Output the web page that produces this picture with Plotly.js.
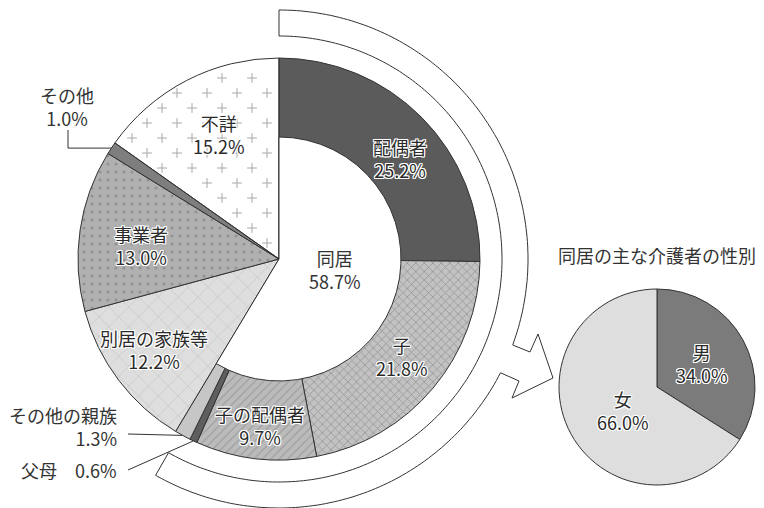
<!DOCTYPE html>
<html>
<head>
<meta charset="utf-8">
<script src="https://cdn.plot.ly/plotly-3.0.1.min.js"></script>
<style>
  html, body { margin: 0; padding: 0; background: #fff; }
  #chart { width: 764px; height: 508px; }
</style>
</head>
<body>
<div id="chart"></div>
<script>
// 主な介護者の続柄
const careLabels = ['配偶者','子','子の配偶者','父母','その他の親族','別居の家族等','事業者','その他','不詳'];
const careValues = [25.2, 21.8, 9.7, 0.6, 1.3, 12.2, 13.0, 1.0, 15.2];
const livingCount = 5;          // first five slices live together
const livingLabel = '同居';
const livingValue = 58.7;
// 同居の主な介護者の性別
const sexTitle = '同居の主な介護者の性別';
const sexLabels = ['男','女'];
const sexValues = [34.0, 66.0];

const sliceColors = ['#5b5b5b','#c2c2c2','#bbbbbb','#5e5e5e','#c6c6c6','#dedede','#b0b0b0','#7e7e7e','rgba(255,255,255,0)'];
const sexColors = ['#7b7b7b','#dedede'];

const W = 764, H = 508;
const cx = 279, cy = 259, R = 201, rHole = 122;
const sx = 657, sy = 387, sR = 98;
const FONT = '"Noto Sans CJK JP", "Noto Sans", sans-serif';
const halo = ['1px 0','-1px 0','0 1px','0 -1px','1px 1px','-1px -1px','1px -1px','-1px 1px']
  .map(o => '#fff ' + o + ' 0').join(', ');

// small hand nudges for label placement (pixels)
const nudge = {'配偶者': [7, 12], '子': [0, -5], '子の配偶者': [0, 8], '別居の家族等': [-12, 5], '事業者': [3, 7], '不詳': [5, 2], '女': [8, 0], '男': [3, 0]};

const dom = (x, y, r) => ({x: [(x - r) / W, (x + r) / W], y: [(H - y - r) / H, (H - y + r) / H]});
const pol = (r, deg, x0 = cx, y0 = cy) => {
  const t = deg * Math.PI / 180;
  return [x0 + r * Math.sin(t), y0 - r * Math.cos(t)];
};

// slice angles, clockwise from 12 o'clock
const total = careValues.reduce((a, b) => a + b, 0);
const starts = [];
careValues.reduce((acc, v) => { starts.push(acc / total * 360); return acc + v; }, 0);
const mids = careValues.map((v, i) => starts[i] + v / total * 180);
const livingSum = careValues.slice(0, livingCount).reduce((a, b) => a + b, 0);

// plus marks for 不詳 (drawn under a transparent slice)
const plusX = [], plusY = [];
const iUnk = careLabels.indexOf('不詳');
const a0 = starts[iUnk];
for (let j = -20; j < 30; j++) {
  const y = 63 + 15 * j;
  const off = ((j % 2) + 2) % 2 ? 15 : 0;
  for (let i = -20; i < 20; i++) {
    const x = 267 - off + 30 * i;
    const dx = x - cx, dy = y - cy;
    const r = Math.hypot(dx, dy);
    let th = Math.atan2(dx, -dy) * 180 / Math.PI;
    if (th < 0) th += 360;
    const edge1 = r * Math.sin((th - a0) * Math.PI / 180);
    const edge2 = r * Math.sin((360 - th) * Math.PI / 180);
    if (r < R - 5 && th > a0 && edge1 > 5 && edge2 > 4) { plusX.push(x); plusY.push(y); }
  }
}

const traces = [
  {
    type: 'scatter', mode: 'markers', x: plusX, y: plusY, hoverinfo: 'skip',
    marker: {symbol: 'cross-thin', size: 7, line: {width: 1, color: '#a8a8a8'}}
  },
  {
    type: 'pie', labels: careLabels, values: careValues, sort: false, direction: 'clockwise',
    rotation: 0, textinfo: 'none', hoverinfo: 'label+percent', domain: dom(cx, cy, R),
    marker: {
      colors: sliceColors,
      line: {color: '#333', width: 1},
      pattern: {
        shape: ['', 'x', '/', '', '', 'x', '.', '', ''],
        bgcolor: sliceColors,
        fgcolor: ['#000', '#959595', '#9a9a9a', '#000', '#000', '#bcbcbc', '#939393', '#000', '#000'],
        size: [8, 6, 6, 8, 8, 14, 8, 8, 8],
        solidity: [0.2, 0.25, 0.18, 0.2, 0.2, 0.07, 0.12, 0.2, 0.2]
      }
    }
  },
  {
    type: 'pie', labels: [livingLabel, ''], values: [livingSum, total - livingSum], sort: false,
    direction: 'clockwise', rotation: 0, textinfo: 'none', hoverinfo: 'skip', domain: dom(cx, cy, rHole),
    marker: {colors: ['#fff', 'rgba(0,0,0,0)'], line: {color: '#333', width: [1, 0]}}
  },
  {
    type: 'pie', labels: sexLabels, values: sexValues, sort: false, direction: 'clockwise',
    rotation: 0, textinfo: 'none', hoverinfo: 'label+percent', domain: dom(sx, sy, sR),
    marker: {colors: sexColors, line: {color: '#333', width: 1}}
  }
];

// curved arrow band around the 同居 side
const ro = 249, ri = 223, endA = 209.7, notchA = 110.2, resumeA = 117.2;
const arrowHead = [[530, 352], [538, 334], [553, 378], [512, 398], [519, 381]];
const band = [];
for (let a = 0; a < notchA; a += 1) band.push(pol(ro, a));
band.push(pol(ro, notchA));
arrowHead.forEach(p => band.push(p));
for (let a = resumeA; a < endA; a += 1) band.push(pol(ro, a));
band.push(pol(ro, endA));
for (let a = endA; a > 0; a -= 1) band.push(pol(ri, a));
band.push(pol(ri, 0));
const bandPath = 'M' + band.map(p => p[0].toFixed(1) + ',' + p[1].toFixed(1)).join('L') + 'Z';

const iOther = careLabels.indexOf('その他');
const iRel = careLabels.indexOf('その他の親族');
const iPar = careLabels.indexOf('父母');
const pOther = pol(R, mids[iOther]);
const pRel = pol(R, mids[iRel]);
const pPar = pol(R, mids[iPar]);

const lineStyle = {color: '#333', width: 1};
const shapes = [
  {type: 'path', xref: 'x', yref: 'y', path: bandPath, fillcolor: '#fff', line: lineStyle, layer: 'above'},
  {type: 'path', xref: 'x', yref: 'y', path: `M68,130 L68,${pOther[1].toFixed(1)} L${pOther[0].toFixed(1)},${pOther[1].toFixed(1)}`, line: lineStyle, layer: 'above'},
  {type: 'path', xref: 'x', yref: 'y', path: `M128,434 L${pRel[0].toFixed(1)},${pRel[1].toFixed(1)}`, line: lineStyle, layer: 'above'},
  {type: 'path', xref: 'x', yref: 'y', path: `M128,470 L${pPar[0].toFixed(1)},${pPar[1].toFixed(1)}`, line: lineStyle, layer: 'above'}
];

const fmt = v => v.toFixed(1) + '%';
const inFont = {family: FONT, size: 18, color: '#2a2a2a', shadow: halo};
const outFont = {family: FONT, size: 18, color: '#333'};
const ann = (x, y, text, font, extra = {}) => Object.assign({
  xref: 'x', yref: 'y', x, y, text, showarrow: false, font, xanchor: 'center', yanchor: 'middle'
}, extra);
const at = (label, p) => {
  const n = nudge[label] || [0, 0];
  return [p[0] + n[0], p[1] + n[1]];
};

const annotations = [];
[0, 1, 2].forEach(i => {
  const p = at(careLabels[i], pol(160, mids[i]));
  annotations.push(ann(p[0], p[1], `${careLabels[i]}<br>${fmt(careValues[i])}`, inFont));
});
[careLabels.indexOf('別居の家族等'), careLabels.indexOf('事業者'), iUnk].forEach(i => {
  const p = at(careLabels[i], pol(142, mids[i]));
  annotations.push(ann(p[0], p[1], `${careLabels[i]}<br>${fmt(careValues[i])}`, inFont));
});
annotations.push(ann(cx + 56, cy + 10, `${livingLabel}<br>${fmt(livingValue)}`, outFont));
annotations.push(ann(67, 106, `${careLabels[iOther]}<br>${fmt(careValues[iOther])}`, outFont));
annotations.push(ann(119, 426, `${careLabels[iRel]}<br>${fmt(careValues[iRel])}`, outFont, {xanchor: 'right', align: 'right'}));
annotations.push(ann(119, 470, `${careLabels[iPar]}\u3000${fmt(careValues[iPar])}`, outFont, {xanchor: 'right', align: 'right'}));

annotations.push(ann(sx, 255, sexTitle, outFont));
let acc = 0;
sexValues.forEach((v, i) => {
  const mid = (acc + v / 2) / 100 * 360;
  acc += v;
  const p = at(sexLabels[i], pol(48, mid, sx, sy));
  annotations.push(ann(p[0], p[1], `${sexLabels[i]}<br>${fmt(v)}`, inFont));
});

const layout = {
  width: W, height: H,
  margin: {l: 0, r: 0, t: 0, b: 0},
  paper_bgcolor: '#fff', plot_bgcolor: 'rgba(0,0,0,0)',
  showlegend: false,
  xaxis: {range: [0, W], visible: false, fixedrange: true},
  yaxis: {range: [H, 0], visible: false, fixedrange: true},
  shapes, annotations,
  font: {family: FONT}
};

Plotly.newPlot('chart', traces, layout, {displayModeBar: false, staticPlot: true});
</script>
</body>
</html>
